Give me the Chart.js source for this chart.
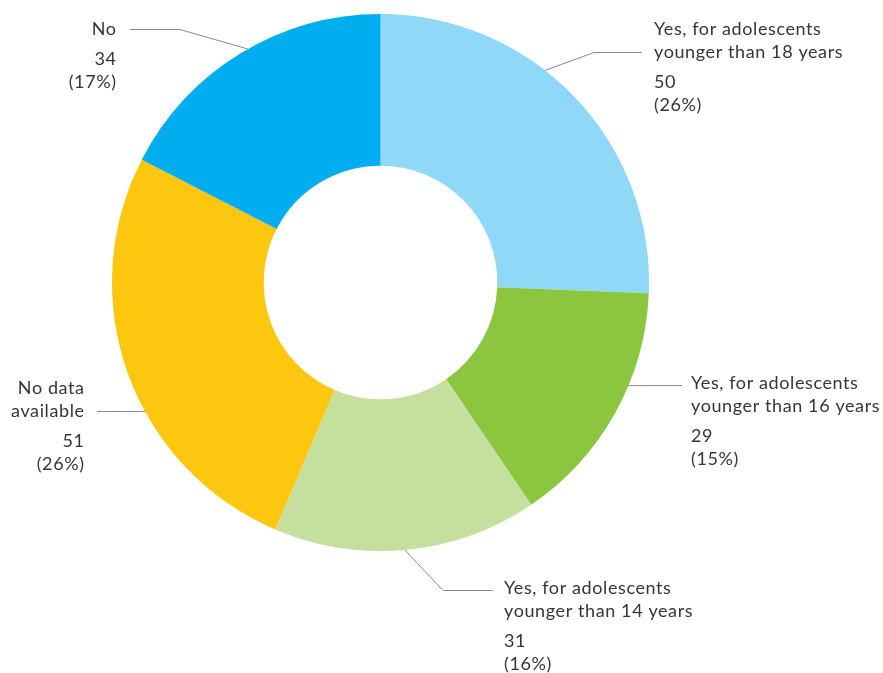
<!DOCTYPE html>
<html>
<head>
<meta charset="utf-8">
<script src="https://cdn.jsdelivr.net/npm/chart.js@4"></script>
<style>
html,body{margin:0;padding:0;background:#fff;}
#wrap{width:883px;height:673px;position:relative;}
</style>
</head>
<body>
<div id="wrap"><canvas id="c" width="883" height="673"></canvas></div>
<script>
const categories = [
  ["Yes, for adolescents", "younger than 18 years"],
  ["Yes, for adolescents", "younger than 16 years"],
  ["Yes, for adolescents", "younger than 14 years"],
  ["No data", "available"],
  ["No"]
];
const values = [50, 29, 31, 51, 34];
const percentLabels = ["(26%)", "(15%)", "(16%)", "(26%)", "(17%)"];
const colors = ["#8FD8F7", "#8CC63F", "#C4DF9E", "#FDC70F", "#00AEEF"];

// leader layout: anchor angle (deg from top, clockwise), elbow point, line end, text x, align, first text line y
const leaders = [
  {ang: 37.8, elbow: [594, 52], end: [642, 52], tx: 654, align: "left", ty: 29},
  {ang: 112.6, elbow: null,     end: [682, 385], tx: 691, align: "left", ty: 383},
  {ang: 174.8, elbow: [443, 590], end: [493, 590], tx: 504, align: "left", ty: 588},
  {ang: 241.3, elbow: null,     end: [97, 411], tx: 84, align: "right", ty: 388},
  {ang: 330.4, elbow: [180, 29], end: [130, 29], tx: 116, align: "right", ty: 29}
];

const labelPlugin = {
  id: "leaderLabels",
  afterDraw(chart) {
    const ctx = chart.ctx;
    const meta = chart.getDatasetMeta(0);
    ctx.save();
    meta.data.forEach((arc, i) => {
      const L = leaders[i];
      const a = (L.ang - 90) * Math.PI / 180;
      const r = arc.outerRadius;
      const sx = arc.x + r * Math.cos(a);
      const sy = arc.y + r * Math.sin(a);
      ctx.strokeStyle = "#8a8a8a";
      ctx.lineWidth = 1;
      ctx.beginPath();
      ctx.moveTo(sx, sy);
      if (L.elbow) ctx.lineTo(L.elbow[0], L.elbow[1] + 0.5);
      ctx.lineTo(L.end[0], L.end[1] + 0.5);
      ctx.stroke();

      ctx.fillStyle = "#363636";
      ctx.font = "18px Lato";
      ctx.textAlign = L.align;
      ctx.textBaseline = "middle";
      const spacing = 0.6;
      try { ctx.letterSpacing = spacing + "px"; } catch (e) {}
      const tx = L.align === "right" ? L.tx + spacing : L.tx;
      const lines = categories[i];
      lines.forEach((t, k) => { ctx.fillText(t, tx, L.ty + k * 23); });
      const y = L.ty + (lines.length - 1) * 23 + 30;
      ctx.fillText(String(values[i]), tx, y);
      ctx.fillText(percentLabels[i], tx, y + 23);
    });
    ctx.restore();
  }
};

new Chart(document.getElementById("c"), {
  type: "doughnut",
  data: {
    labels: categories.map(c => c.join(" ")),
    datasets: [{
      data: values,
      backgroundColor: colors,
      borderWidth: 0
    }]
  },
  options: {
    responsive: false,
    animation: false,
    cutout: "43.5%",
    layout: {padding: {top: 14, bottom: 122, left: 112, right: 234}},
    plugins: {legend: {display: false}, tooltip: {enabled: false}}
  },
  plugins: [labelPlugin]
});
</script>
</body>
</html>
